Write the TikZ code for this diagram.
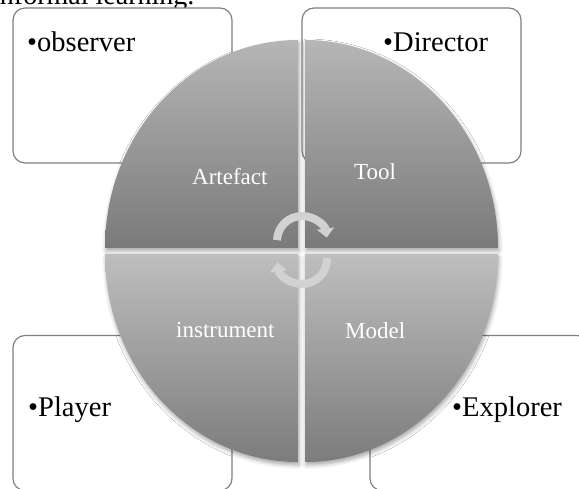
\documentclass[tikz,border=0pt]{standalone}
\usepackage{fontspec}
\setmainfont{Liberation Serif}
\usetikzlibrary{arrows.meta,shadows.blur}
\definecolor{BoxLine}{HTML}{808080}
\definecolor{RingTopA}{HTML}{B6B6B6}
\definecolor{RingTopB}{HTML}{7A7A7A}
\definecolor{RingLowA}{HTML}{BEBEBE}
\definecolor{RingLowB}{HTML}{7C7C7C}
\definecolor{CycleGray}{HTML}{D2D2D2}

\begin{document}
\begin{tikzpicture}[x=1pt,y=1pt, every node/.style={inner sep=0pt}, rolebox/.style={draw=BoxLine,line width=1.2pt,rounded corners=12pt,fill=white,minimum width=219pt,minimum height=155pt}, role/.style={anchor=base west,font=\fontsize{28.5}{34}\selectfont}, part/.style={anchor=base west,text=white,font=\fontsize{23}{27}\selectfont}, upper/.style={top color=RingTopA,bottom color=RingTopB,blur shadow={shadow xshift=1pt,shadow yshift=-3pt,shadow blur radius=4pt,shadow opacity=35}}, lower/.style={top color=RingLowA,bottom color=RingLowB,blur shadow={shadow xshift=1pt,shadow yshift=-3pt,shadow blur radius=4pt,shadow opacity=35}}, cyclearrow/.style={draw=CycleGray,line width=8pt,-{Triangle[width=17pt,length=9pt]}}]
\useasboundingbox (0,0) rectangle (579,488);
\clip (0,0) rectangle (579,488);
\node[anchor=base west,font=\fontsize{28}{34}\selectfont] (caption) at (-8,483) {informal learning.};
% role boxes
\node[rolebox] (obsbox) at (122.5,402.5) {};
\node[rolebox] (dirbox) at (411.5,402.5) {};
\node[rolebox] (plybox) at (122.5,75) {};
\node[rolebox] (expbox) at (479.5,75) {};
% four quarters of the ring
\path[upper] (298,240) -- (105,240) arc[start angle=180,end angle=90,x radius=193,y radius=208] -- cycle;
\path[upper] (305,240) -- (305,448) arc[start angle=90,end angle=0,x radius=193,y radius=208] -- cycle;
\path[lower] (298,234) -- (298,26) arc[start angle=270,end angle=180,x radius=193,y radius=208] -- cycle;
\path[lower] (305,234) -- (498,234) arc[start angle=0,end angle=-90,x radius=193,y radius=208] -- cycle;
% cycle arrows
\coordinate (upc) at (302,247);
\coordinate (loc) at (302,229);
\draw[cyclearrow] ([shift={(178:25)}]upc) arc[start angle=178,end angle=8,radius=25];
\draw[cyclearrow] ([shift={(2:25)}]loc) arc[start angle=2,end angle=-172,radius=25];
% labels
\node[part] (artefact) at (192,303) {Artefact};
\node[part] (tool) at (354,308) {Tool};
\node[part] (instrument) at (176,150) {instrument};
\node[part] (model) at (345,149) {Model};
\node[role] (observer) at (27,436) {•observer};
\node[role] (director) at (383,436) {•Director};
\node[role] (player) at (28,71) {•Player};
\node[role] (explorer) at (452,71) {•Explorer};
\end{tikzpicture}
\end{document}
